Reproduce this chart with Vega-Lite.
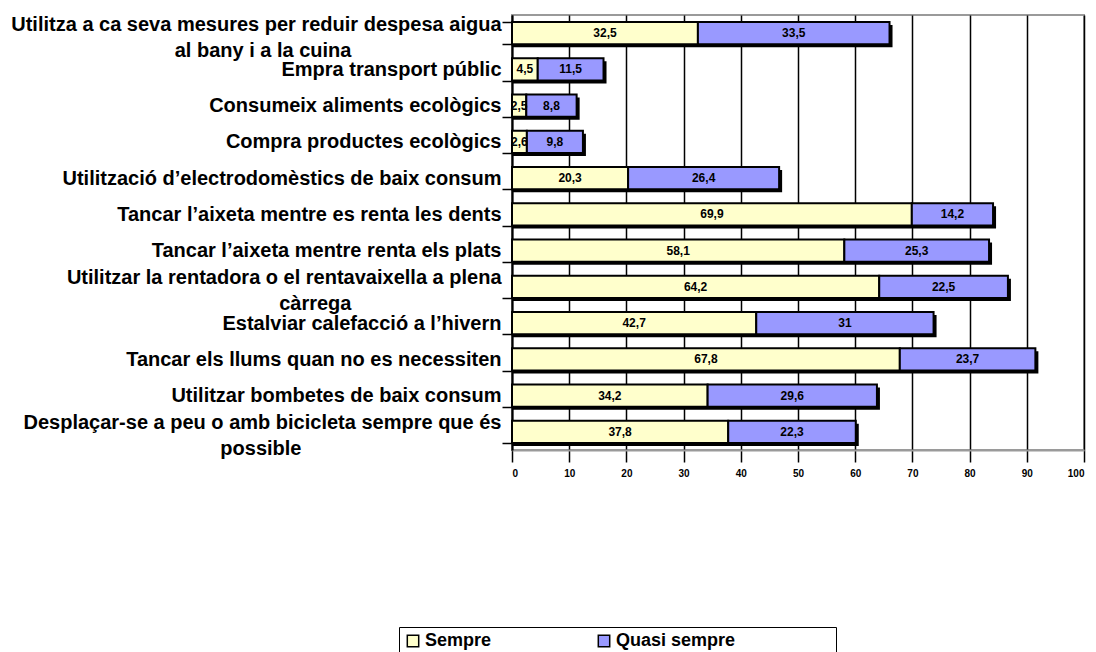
{
  "$schema": "https://vega.github.io/schema/vega-lite/v6.json",
  "autosize": "none",
  "width": 572,
  "height": 435,
  "padding": {"left": 512, "top": 15, "right": 12, "bottom": 202},
  "background": "white",
  "config": {
    "font": "Liberation Sans",
    "view": {"stroke": "#9a9a9a", "strokeWidth": 2}
  },
  "data": {
    "values": [
      {"cat": "Utilitza a ca seva mesures per reduir despesa aigua\nal bany i a la cuina", "serie": "Sempre", "value": 32.5},
      {"cat": "Utilitza a ca seva mesures per reduir despesa aigua\nal bany i a la cuina", "serie": "Quasi sempre", "value": 33.5},
      {"cat": "Empra transport públic", "serie": "Sempre", "value": 4.5},
      {"cat": "Empra transport públic", "serie": "Quasi sempre", "value": 11.5},
      {"cat": "Consumeix aliments ecològics", "serie": "Sempre", "value": 2.5},
      {"cat": "Consumeix aliments ecològics", "serie": "Quasi sempre", "value": 8.8},
      {"cat": "Compra productes ecològics", "serie": "Sempre", "value": 2.6},
      {"cat": "Compra productes ecològics", "serie": "Quasi sempre", "value": 9.8},
      {"cat": "Utilització d’electrodomèstics de baix consum", "serie": "Sempre", "value": 20.3},
      {"cat": "Utilització d’electrodomèstics de baix consum", "serie": "Quasi sempre", "value": 26.4},
      {"cat": "Tancar l’aixeta mentre es renta les dents", "serie": "Sempre", "value": 69.9},
      {"cat": "Tancar l’aixeta mentre es renta les dents", "serie": "Quasi sempre", "value": 14.2},
      {"cat": "Tancar l’aixeta mentre renta els plats", "serie": "Sempre", "value": 58.1},
      {"cat": "Tancar l’aixeta mentre renta els plats", "serie": "Quasi sempre", "value": 25.3},
      {"cat": "Utilitzar la rentadora o el rentavaixella a plena\ncàrrega", "serie": "Sempre", "value": 64.2},
      {"cat": "Utilitzar la rentadora o el rentavaixella a plena\ncàrrega", "serie": "Quasi sempre", "value": 22.5},
      {"cat": "Estalviar calefacció a l’hivern", "serie": "Sempre", "value": 42.7},
      {"cat": "Estalviar calefacció a l’hivern", "serie": "Quasi sempre", "value": 31},
      {"cat": "Tancar els llums quan no es necessiten", "serie": "Sempre", "value": 67.8},
      {"cat": "Tancar els llums quan no es necessiten", "serie": "Quasi sempre", "value": 23.7},
      {"cat": "Utilitzar bombetes de baix consum", "serie": "Sempre", "value": 34.2},
      {"cat": "Utilitzar bombetes de baix consum", "serie": "Quasi sempre", "value": 29.6},
      {"cat": "Desplaçar-se a peu o amb bicicleta sempre que és\npossible", "serie": "Sempre", "value": 37.8},
      {"cat": "Desplaçar-se a peu o amb bicicleta sempre que és\npossible", "serie": "Quasi sempre", "value": 22.3}
    ]
  },
  "encoding": {
    "y": {
      "field": "cat",
      "type": "nominal",
      "sort": null,
      "scale": {"paddingInner": 0.38, "paddingOuter": 0.19},
      "axis": {
        "title": null,
        "labelExpr": "indexof(datum.label, '\\n') < 0 ? datum.label : [split(datum.label, '\\n')[0], split(datum.label, '\\n')[1] + (indexof(datum.label, 'possible') >= 0 ? '\u00a0\u00a0\u00a0\u00a0\u00a0\u00a0\u00a0\u00a0\u00a0\u00a0\u00a0\u00a0\u00a0\u00a0\u00a0\u00a0\u00a0\u00a0\u00a0\u00a0\u00a0\u00a0\u00a0\u00a0\u00a0\u00a0\u00a0\u00a0\u00a0\u00a0\u00a0\u00a0\u00a0\u00a0\u00a0\u00a0\u200b' : '\u00a0\u00a0\u00a0\u00a0\u00a0\u00a0\u00a0\u00a0\u00a0\u00a0\u00a0\u00a0\u00a0\u00a0\u00a0\u00a0\u00a0\u00a0\u00a0\u00a0\u00a0\u00a0\u00a0\u00a0\u00a0\u00a0\u00a0\u200b')]",
        "labelFont": "Liberation Sans",
        "labelFontWeight": "bold",
        "labelFontSize": 20,
        "labelColor": "black",
        "labelLineHeight": 26,
        "labelLimit": 520,
        "labelPadding": 1,
        "labelOffset": {"condition": {"test": "indexof(datum.label, '\\n') >= 0", "value": -9}, "value": 0},
        "tickBand": "extent",
        "tickSize": 10,
        "tickColor": "black",
        "tickWidth": 1.5,
        "domainColor": "black",
        "domainWidth": 2,
        "grid": false
      }
    }
  },
  "layer": [
    {
      "mark": {"type": "bar", "color": "black", "xOffset": 3, "yOffset": 3},
      "encoding": {
        "x": {
          "aggregate": "sum",
          "field": "value",
          "type": "quantitative",
          "scale": {"domain": [0, 100], "nice": false},
          "axis": {
            "title": null,
            "values": [0, 10, 20, 30, 40, 50, 60, 70, 80, 90, 100],
            "labelFontWeight": "bold",
            "labelFontSize": 10,
            "labelColor": "black",
            "tickSize": 12,
            "tickColor": "black",
            "tickWidth": 1.5,
            "labelPadding": 6,
            "domainColor": "#9a9a9a",
            "domainWidth": 2,
            "grid": true,
            "gridColor": "black",
            "gridWidth": 1.5,
            "gridOpacity": 1
          }
        }
      }
    },
    {
      "transform": [
        {"stack": "value", "groupby": ["cat"], "sort": [{"field": "serie", "order": "descending"}], "as": ["v0", "v1"]},
        {"calculate": "(datum.v0 + datum.v1) / 2", "as": "mid"},
        {"calculate": "replace(toString(datum.value), '.', ',')", "as": "lab"}
      ],
      "layer": [
        {
          "mark": {"type": "bar", "stroke": "black", "strokeWidth": 2},
          "encoding": {
            "x": {"field": "v0", "type": "quantitative"},
            "x2": {"field": "v1"},
            "color": {
              "field": "serie",
              "type": "nominal",
              "scale": {"domain": ["Sempre", "Quasi sempre"], "range": ["#FFFFCC", "#9999FF"]},
              "legend": {
                "title": null,
                "orient": "none",
                "legendX": -113,
                "legendY": 612,
                "direction": "horizontal",
                "columns": 2,
                "columnPadding": 103,
                "symbolType": "square",
                "symbolSize": 130,
                "symbolStrokeColor": "black",
                "symbolStrokeWidth": 1.5,
                "symbolOpacity": 1,
                "labelExpr": "datum.label === 'Quasi sempre' ? datum.label + '\u00a0\u00a0\u00a0\u00a0\u00a0\u00a0\u00a0\u00a0\u00a0\u00a0\u00a0\u00a0\u00a0\u00a0\u00a0\u00a0\u00a0\u00a0\u00a0\u200b' : datum.label",
                "labelLimit": 400,
                "labelFontWeight": "bold",
                "labelFontSize": 18,
                "labelColor": "black",
                "labelOffset": 3,
                "padding": 5,
                "strokeColor": "black",
                "fillColor": "white"
              }
            }
          }
        },
        {
          "mark": {"type": "text", "fontWeight": "bold", "fontSize": 12, "color": "black"},
          "encoding": {
            "x": {"field": "mid", "type": "quantitative"},
            "text": {"field": "lab", "type": "nominal"}
          }
        }
      ]
    }
  ]
}
